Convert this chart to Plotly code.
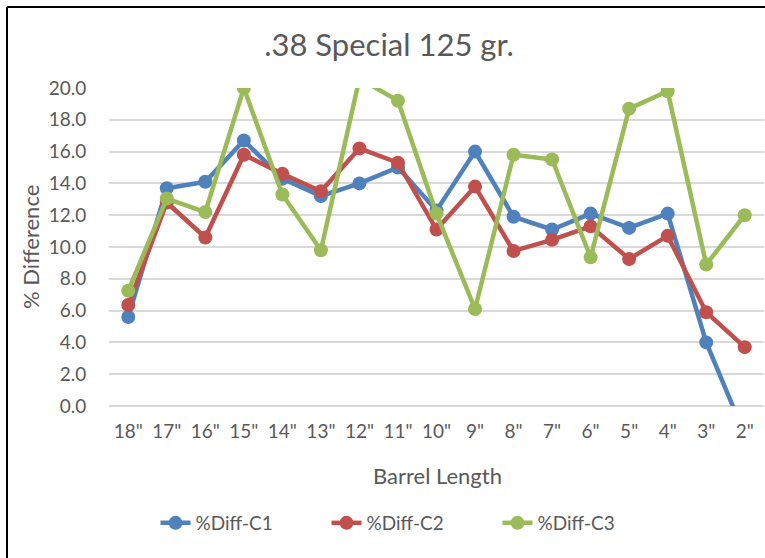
import plotly.graph_objects as go

categories = ['18"', '17"', '16"', '15"', '14"', '13"', '12"', '11"', '10"', '9"',
              '8"', '7"', '6"', '5"', '4"', '3"', '2"']
diff_c1 = [5.6, 13.7, 14.1, 16.7, 14.3, 13.2, 14.0, 15.0, 12.3, 16.0,
           11.9, 11.1, 12.1, 11.2, 12.1, 4.0, -1.8]
diff_c2 = [6.35, 12.8, 10.6, 15.8, 14.6, 13.5, 16.2, 15.3, 11.1, 13.8,
           9.75, 10.45, 11.3, 9.25, 10.7, 5.9, 3.7]
diff_c3 = [7.25, 13.05, 12.2, 20.0, 13.3, 9.8, 20.6, 19.2, 12.1, 6.1,
           15.8, 15.5, 9.35, 18.7, 19.8, 8.9, 12.0]
y_ticks = [0, 2, 4, 6, 8, 10, 12, 14, 16, 18, 20]

series = [("%Diff-C1", diff_c1, "#4F81BD"),
          ("%Diff-C2", diff_c2, "#C0504D"),
          ("%Diff-C3", diff_c3, "#9BBB59")]

FONT = "Lato"
GREY = "#595959"

fig = go.Figure()
for name, vals, col in series:
    fig.add_trace(go.Scatter(
        x=categories, y=vals, name=name, mode="lines+markers",
        line=dict(color=col, width=4.5),
        marker=dict(color=col, size=14),
    ))

W, H = 765, 558
L, R, T, B = 109, 1, 88, 152
pw, ph = W - L - R, H - T - B

def px2paper_x(px):
    return (px - L) / pw

def px2paper_y(py):
    return (H - B - py) / ph

fig.update_layout(
    width=W, height=H,
    margin=dict(l=L, r=R, t=T, b=B),
    paper_bgcolor="white", plot_bgcolor="white",
    font=dict(family=FONT, color=GREY, size=19),
    title=dict(text=".38 Special 125 gr.", x=389 / W, xref="container",
               y=1 - 45 / H, yref="container", xanchor="center", yanchor="middle",
               font=dict(size=31, color=GREY, family=FONT)),
    showlegend=True,
    legend=dict(orientation="h", xref="container", yref="container",
                x=412 / W, y=1 - 523 / H, xanchor="center", yanchor="middle",
                font=dict(size=19, color=GREY, family=FONT),
                entrywidth=126, entrywidthmode="pixels", traceorder="normal"),
    xaxis=dict(type="category", categoryorder="array", categoryarray=categories,
               range=[-0.5, 16.5], showgrid=False, showline=False, zeroline=False,
               ticks="outside", ticklen=8, tickcolor="rgba(0,0,0,0)",
               tickfont=dict(size=19, color=GREY, family=FONT)),
    yaxis=dict(range=[0, 20], tickvals=y_ticks, tickformat=".1f",
               showgrid=True, gridcolor="#D9D9D9", gridwidth=1.5,
               zeroline=True, zerolinecolor="#D9D9D9", zerolinewidth=1.5,
               showline=False, ticks="outside", ticklen=18,
               tickcolor="rgba(0,0,0,0)",
               tickfont=dict(size=19, color=GREY, family=FONT)),
    annotations=[
        dict(text="Barrel Length", xref="paper", yref="paper",
             x=px2paper_x(437), y=px2paper_y(475), showarrow=False,
             xanchor="center", yanchor="middle",
             font=dict(size=22, color=GREY, family=FONT)),
        dict(text="% Difference", xref="paper", yref="paper",
             x=px2paper_x(30), y=px2paper_y(247), showarrow=False,
             xanchor="center", yanchor="middle", textangle=-90,
             font=dict(size=22, color=GREY, family=FONT)),
    ],
    shapes=[
        dict(type="line", xref="paper", yref="paper",
             x0=px2paper_x(7), x1=px2paper_x(7),
             y0=px2paper_y(570), y1=px2paper_y(7),
             line=dict(color="black", width=2)),
        dict(type="line", xref="paper", yref="paper",
             x0=px2paper_x(7), x1=px2paper_x(780),
             y0=px2paper_y(7), y1=px2paper_y(7),
             line=dict(color="black", width=2)),
    ],
)

fig.write_html("out.html",
               config={"displayModeBar": False},
               post_script="document.body.style.margin='0';"
                           "document.body.style.overflow='hidden';")
